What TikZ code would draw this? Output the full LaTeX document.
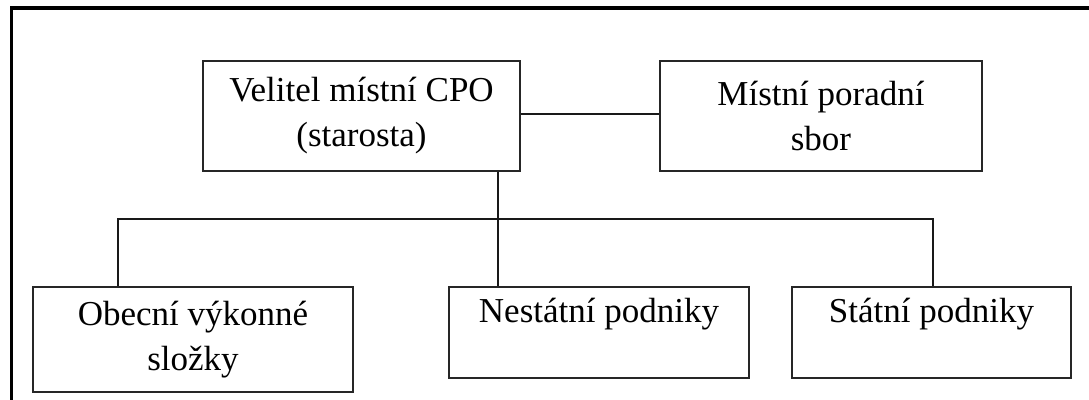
\documentclass[tikz,border=0pt]{standalone}
\usepackage{fontspec}
\setmainfont{Liberation Serif}
\usepackage{tikz}
\usetikzlibrary{calc}

\begin{document}
\begin{tikzpicture}[x=1pt,y=-1pt,
        orgbox/.style={draw=black!85,line width=1.6pt,rectangle,inner sep=0pt,align=center,font=\fontsize{35}{45}\selectfont},
        orgline/.style={draw=black!90,line width=1.3pt}]
        \useasboundingbox (0,0) rectangle (1089,399);

        %%FRAME
        % Outer border (top and left only)
        \path[draw,line width=3.6pt,line cap=rect] (11.5,399) -- (11.5,8) -- (1089,8);

        %%BOXES
        % Velitel
        \node[orgbox,minimum width=317pt,minimum height=110pt] (cmd) at (361.5,116) {Velitel místní CPO\\(starosta)};
        % Poradni sbor
        \node[orgbox,minimum width=322pt,minimum height=110pt] (rada) at (821,116) {Místní poradní\\sbor};
        % Obecni slozky
        \node[orgbox,minimum width=320pt,minimum height=105pt] (obec) at (193,339.5) {Obecní výkonné\\složky};
        % Nestatni podniky
        \node[orgbox,minimum width=300pt,minimum height=91pt] (nestat) at (599,332.5) {Nestátní podniky\\\mbox{}};
        % Statni podniky
        \node[orgbox,minimum width=279pt,minimum height=91pt] (stat) at (931.5,332.5) {Státní podniky\\\mbox{}};

        %%LINES
        \coordinate (bus) at (498,219);
        \coordinate (busL) at (118,219);
        \coordinate (busR) at (933,219);

        % Velitel -- poradni sbor
        \path[orgline] (cmd.east |- 0,114) -- (rada.west |- 0,114);

        % Trunk down to nestatni
        \path[orgline] (cmd.south -| bus) -- (nestat.north -| bus);

        % Bus with drops
        \path[orgline] (obec.north -| busL) -- (busL) -- (busR) -- (stat.north -| busR);

\end{tikzpicture}
\end{document}
